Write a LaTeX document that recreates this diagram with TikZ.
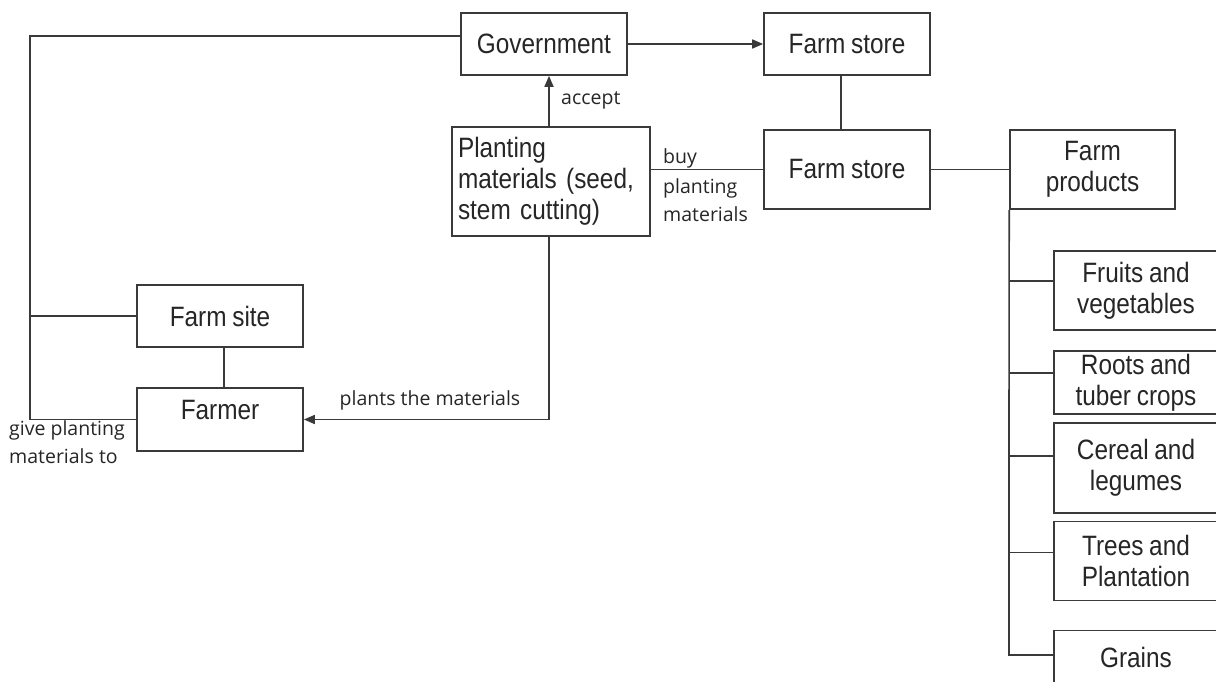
\documentclass[tikz,border=0pt]{standalone}
\usepackage{fontspec}
\setmainfont[FakeStretch=0.87, WordSpace=0.85]{Liberation Sans}
\newfontfamily\labelfont{Open Sans}
\usetikzlibrary{arrows.meta}
\definecolor{linegray}{HTML}{3A3A3A}
\definecolor{textgray}{HTML}{262626}

\begin{document}
\begin{tikzpicture}[x=1pt,y=-1pt,
  box/.style={draw=linegray, line width=1.7pt, fill=white,
    minimum width=166pt, minimum height=62pt, inner sep=0pt,
    font=\fontsize{28}{31}\selectfont, text=textgray, align=center},
  lbl/.style={inner sep=0pt, text=textgray, align=left,
    font=\labelfont\fontsize{19.5}{28.5}\selectfont},
  wire/.style={draw=linegray, line width=1.7pt},
  arr/.style={wire, -{Triangle[length=11pt,width=9pt]}}]
\useasboundingbox (0,0) rectangle (1216,682);
\clip (0,0) rectangle (1216,682);
\fill[white] (0,0) rectangle (1216,682);

% boxes of the upper chain
\node[box] (gov) at (544,44) {Government};
\node[box] (fs1) at (847,44) {Farm store};
\node[box, minimum width=198pt, minimum height=109pt, text width=186pt, align=left]
  (pm) at (551,181.5) {Planting\\materials (seed,\\stem cutting)};
\node[box, minimum height=79pt] (fs2) at (847,169.5) {Farm store};
\node[box, minimum width=165pt, minimum height=79pt] (prod) at (1092.5,169.5) {Farm\\products};

% product categories
\node[box, minimum width=164pt, minimum height=79pt] (fruits) at (1136,290.5) {Fruits and\\vegetables};
\node[box, minimum width=164pt, minimum height=63pt] (roots) at (1136,382.5) {Roots and\\tuber crops};
\node[box, minimum width=164pt, minimum height=90pt] (cereal) at (1136,468) {Cereal and\\legumes};
\node[box, minimum width=164pt, minimum height=79pt] (trees) at (1136,561) {Trees and\\Plantation};
\node[box, minimum width=164pt, minimum height=54pt] (grains) at (1136,657.5) {Grains};

% farm side
\node[box] (fsite) at (220,316) {Farm site};
\node[box, minimum height=63pt, text height=20pt, text depth=20pt] (farmer) at (220,419.5) {Farmer};

% connectors
\draw[arr] (gov.east) -- (fs1.west);
\draw[arr] ([xshift=-2pt]pm.north) -- ([xshift=-2pt]pm.north |- gov.south);
\draw[wire] ([xshift=-6pt]fs1.south) -- ([xshift=-6pt]fs2.north);
\draw[wire] (pm.east |- fs2.west) -- (fs2.west);
\draw[wire] (fs2.east) -- (prod.west |- fs2.east);
\draw[arr] ([xshift=-2pt]pm.south) |- (farmer.east);
\draw[wire] ([xshift=4pt]fsite.south) -- ([xshift=4pt]farmer.north);

% loop on the left
\coordinate (lc) at (30,419.5);
\draw[wire] ([yshift=8pt]gov.west) -| (lc) -- (farmer.west);
\draw[wire] (fsite.west) -- (fsite.west -| lc);

% trunk of the product tree
\coordinate (tb) at (1009,655);
\draw[wire] (prod.south west) -- (tb) -- (tb -| grains.west);
\coordinate (b1) at (1009,281);
\coordinate (b2) at (1009,373);
\coordinate (b3) at (1009,456);
\coordinate (b4) at (1009,552.5);
\draw[wire] (b1) -- (b1 -| fruits.west);
\draw[wire] (b2) -- (b2 -| roots.west);
\draw[wire] (b3) -- (b3 -| cereal.west);
\draw[wire] (b4) -- (b4 -| trees.west);

% connector labels
\node[lbl, anchor=west] (lacc) at (561,100) {accept};
\node[lbl, anchor=west] (lbuy) at (663,158) {buy};
\node[lbl, anchor=north west] (lpm) at (663,178) {planting\\materials};
\node[lbl] (lplant) at (430,400) {plants the materials};
\node[lbl, anchor=north west] (lgive) at (9,420) {give planting\\materials to};
\end{tikzpicture}
\end{document}
